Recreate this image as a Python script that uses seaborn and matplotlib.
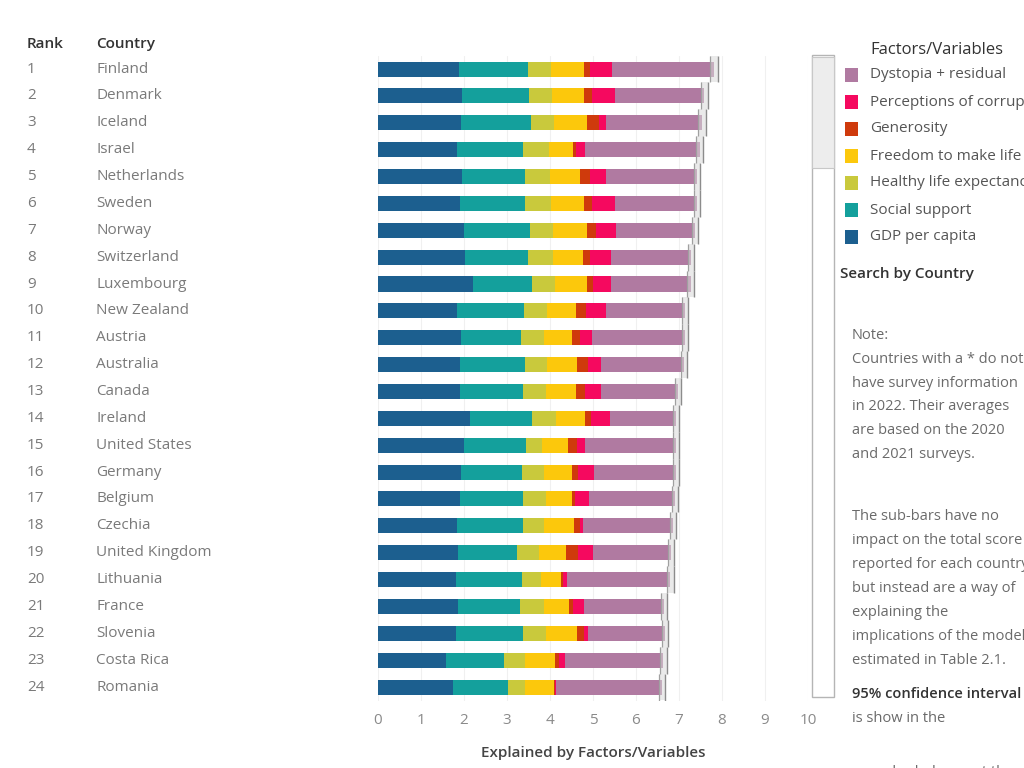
import matplotlib
matplotlib.use('Agg')
import matplotlib.pyplot as plt
import matplotlib.transforms as mtransforms
from matplotlib.patches import Rectangle
import numpy as np
import seaborn as sns

# World Happiness ranking
ranks = list(range(1, 25))
countries = ["Finland", "Denmark", "Iceland", "Israel", "Netherlands", "Sweden",
             "Norway", "Switzerland", "Luxembourg", "New Zealand", "Austria",
             "Australia", "Canada", "Ireland", "United States", "Germany",
             "Belgium", "Czechia", "United Kingdom", "Lithuania", "France",
             "Slovenia", "Costa Rica", "Romania"]

gdp = [1.89, 1.95, 1.92, 1.84, 1.95, 1.91, 1.99, 2.02, 2.21, 1.84, 1.92, 1.90,
       1.90, 2.15, 1.99, 1.94, 1.90, 1.84, 1.86, 1.81, 1.86, 1.81, 1.59, 1.74]
social = [1.59, 1.57, 1.63, 1.53, 1.48, 1.52, 1.54, 1.47, 1.38, 1.56, 1.41, 1.51,
          1.47, 1.44, 1.46, 1.40, 1.47, 1.53, 1.37, 1.53, 1.45, 1.57, 1.34, 1.28]
health = [0.54, 0.53, 0.54, 0.60, 0.56, 0.60, 0.54, 0.58, 0.52, 0.54, 0.52, 0.53,
          0.54, 0.56, 0.37, 0.52, 0.53, 0.50, 0.51, 0.44, 0.54, 0.52, 0.50, 0.41]
freedom = [0.77, 0.75, 0.78, 0.56, 0.70, 0.75, 0.78, 0.70, 0.74, 0.66, 0.65, 0.69,
           0.69, 0.66, 0.60, 0.64, 0.60, 0.68, 0.64, 0.47, 0.60, 0.73, 0.69, 0.66]
generosity = [0.13, 0.18, 0.26, 0.08, 0.23, 0.20, 0.23, 0.16, 0.14, 0.23, 0.19, 0.25,
              0.21, 0.15, 0.21, 0.16, 0.08, 0.15, 0.27, 0.05, 0.08, 0.16, 0.10, 0.03]
corruption = [0.53, 0.54, 0.18, 0.20, 0.39, 0.54, 0.45, 0.48, 0.42, 0.48, 0.29, 0.30,
              0.37, 0.44, 0.18, 0.37, 0.33, 0.06, 0.35, 0.10, 0.27, 0.09, 0.12, 0.01]
dystopia = [2.36, 2.07, 2.23, 2.67, 2.11, 1.89, 1.84, 1.86, 1.86, 1.82, 2.15, 1.93,
            1.80, 1.54, 2.11, 1.90, 2.00, 2.09, 1.82, 2.40, 1.86, 1.80, 2.29, 2.48]
# half width of the 95% confidence interval (grey band at bar end)
ci_half = [0.09, 0.08, 0.09, 0.08, 0.07, 0.07, 0.07, 0.07, 0.09, 0.07, 0.07, 0.07,
           0.07, 0.07, 0.07, 0.07, 0.07, 0.07, 0.07, 0.08, 0.07, 0.07, 0.08, 0.07]

factor_names = ["GDP per capita", "Social support", "Healthy life expectancy",
                "Freedom to make life choices", "Generosity",
                "Perceptions of corruption", "Dystopia + residual"]
factor_colors = ["#1c5f8f", "#14a09c", "#c9c93c", "#fcc80c", "#cf3a0c",
                 "#f5095f", "#b07aa1"]
factors = [gdp, social, health, freedom, generosity, corruption, dystopia]

note_block1 = ["Note:", "Countries with a * do not", "have survey information",
               "in 2022. Their averages", "are based on the 2020",
               "and 2021 surveys."]
note_block2 = ["The sub-bars have no", "impact on the total score",
               "reported for each country,", "but instead are a way of",
               "explaining the", "implications of the model",
               "estimated in Table 2.1."]

sns.set_style("white")
plt.rcParams['font.family'] = ['Open Sans', 'DejaVu Sans']

W, H = 1024, 768
fig = plt.figure(figsize=(W / 100, H / 100), dpi=100)
fig.patch.set_facecolor("white")


def fx(px):
    return px / W


def fy(py):
    return 1 - py / H


ax = fig.add_axes([fx(378), fy(700.5), fx(808) - fx(378), fy(55.6) - fy(700.5)])

# stacked bars: draw cumulative totals from the largest down
cum = np.cumsum(np.array(factors), axis=0)
for i in range(len(factors) - 1, -1, -1):
    sns.barplot(x=cum[i], y=countries, color=factor_colors[i], saturation=1,
                width=0.56, errorbar=None, orient="h", ax=ax, zorder=3,
                linewidth=0, edgecolor="none")

total = cum[-1]
pos = np.arange(len(countries))
half = np.array(ci_half)
ax.barh(pos, 2 * half, left=total - half, height=1.0, color="#d9d9d9",
        alpha=0.55, zorder=4, linewidth=0)
ax.vlines(total - half, pos - 0.5, pos + 0.5, color="#a0a0a0", lw=0.9, zorder=5)
ax.vlines(total + half, pos - 0.5, pos + 0.5, color="#8c8c8c", lw=1.0, zorder=5)

ax.set_xlim(0, 10)
ax.set_ylim(len(countries) - 0.5, -0.5)
ax.set_xticks(range(0, 11))
ax.set_xticklabels([str(t) for t in range(0, 11)])
ax.tick_params(axis="x", length=0, pad=9, labelsize=11, labelcolor="#8a8a8a")
ax.set_yticks([])
ax.set_ylabel("")
ax.set_xlabel("Explained by Factors/Variables", fontsize=11, color="#444444",
              fontweight="semibold", labelpad=13)
for s in ax.spines.values():
    s.set_visible(False)
ax.grid(axis="x", color="#f0f0f0", lw=0.8, zorder=0)
ax.set_axisbelow(True)

# rank / country columns aligned to the bar rows
row_tr = mtransforms.blended_transform_factory(fig.transFigure, ax.transData)
fig.text(fx(27), fy(44), "Rank", fontsize=11, color="#333333",
         fontweight="semibold", va="center")
fig.text(fx(96), fy(44), "Country", fontsize=11, color="#333333",
         fontweight="semibold", va="center")
for i, (r, c) in enumerate(zip(ranks, countries)):
    ax.text(fx(27), i, str(r), transform=row_tr, fontsize=11, color="#7a7a7a",
            va="center", ha="left")
    ax.text(fx(96), i, c, transform=row_tr, fontsize=11, color="#7a7a7a",
            va="center", ha="left")

# scroll bar
fig.add_artist(Rectangle((fx(812), fy(697)), fx(834) - fx(812), fy(55) - fy(697),
                         transform=fig.transFigure, facecolor="white",
                         edgecolor="#b5b5b5", lw=1))
fig.add_artist(Rectangle((fx(812), fy(168)), fx(834) - fx(812), fy(57) - fy(168),
                         transform=fig.transFigure, facecolor="#ededed",
                         edgecolor="#c8c8c8", lw=0.8))

# legend
fig.text(fx(870), fy(50), "Factors/Variables", fontsize=12, color="#333333",
         va="center")
for k, i in enumerate(range(len(factor_names) - 1, -1, -1)):
    yc = 75 + 27 * k
    fig.add_artist(Rectangle((fx(845), fy(yc + 7)), fx(13), 14 / H,
                             transform=fig.transFigure,
                             facecolor=factor_colors[i], edgecolor="none"))
    fig.text(fx(870), fy(yc), factor_names[i], fontsize=11, color="#555555",
             va="center")

fig.text(fx(840), fy(274), "Search by Country", fontsize=11, color="#333333",
         fontweight="semibold", va="center")

for k, line in enumerate(note_block1):
    fig.text(fx(852), fy(335 + 24 * k), line, fontsize=10.5, color="#6a6a6a",
             va="center")
for k, line in enumerate(note_block2):
    fig.text(fx(852), fy(517 + 24 * k), line, fontsize=10.5, color="#6a6a6a",
             va="center")

fig.text(fx(852), fy(694), "95% confidence interval", fontsize=10.5,
         color="#333333", fontweight="semibold", va="center")
fig.text(fx(852), fy(718), "is show in the", fontsize=10.5, color="#6a6a6a",
         va="center")
fig.text(fx(852), fy(773), "grey shaded area at the", fontsize=10.5,
         color="#6a6a6a", va="center")

fig.savefig("out.png", dpi=100)
